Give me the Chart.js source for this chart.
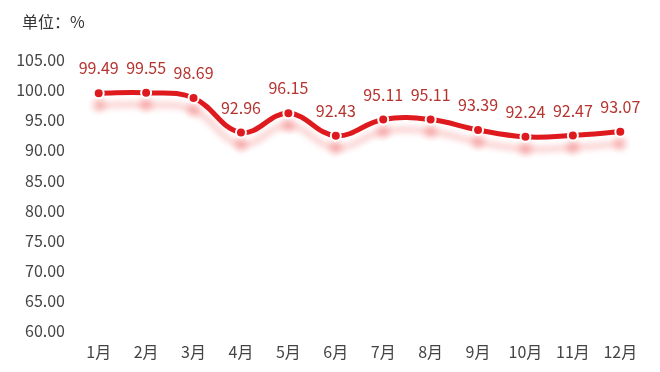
<!DOCTYPE html>
<html>
<head>
<meta charset="utf-8">
<script src="https://cdn.jsdelivr.net/npm/chart.js@4"></script>
<style>
  html, body { margin: 0; padding: 0; background: #fff; }
  canvas { display: block; }
</style>
</head>
<body>
<canvas id="chart" width="660" height="372"></canvas>
<script>
// 数据
const months = ['1月', '2月', '3月', '4月', '5月', '6月', '7月', '8月', '9月', '10月', '11月', '12月'];
const values = [99.49, 99.55, 98.69, 92.96, 96.15, 92.43, 95.11, 95.11, 93.39, 92.24, 92.47, 93.07];
const yMin = 60;
const yMax = 105;
const yStep = 5;
const unitText = '单位：%';

const fontFamily = '"Noto Sans CJK SC", "Noto Sans", sans-serif';

// 线条阴影
const shadowPlugin = {
    id: 'lineShadow',
    beforeDatasetDraw(chart) {
        const ctx = chart.ctx;
        ctx.save();
        ctx.shadowColor = 'rgba(240, 80, 80, 0.32)';
        ctx.shadowBlur = 6;
        ctx.shadowOffsetY = 12;
    },
    afterDatasetDraw(chart) {
        chart.ctx.restore();
    }
};

// 数值标签 + 单位
const labelPlugin = {
    id: 'valueLabels',
    afterDatasetsDraw(chart) {
        const ctx = chart.ctx;
        const meta = chart.getDatasetMeta(0);
        ctx.save();
        ctx.font = '16px ' + fontFamily;
        ctx.fillStyle = '#b5342f';
        ctx.textAlign = 'center';
        ctx.textBaseline = 'bottom';
        meta.data.forEach((pt, i) => {
            ctx.fillText(values[i].toFixed(2), pt.x, pt.y - 17);
        });
        // 单位
        ctx.fillStyle = '#333';
        ctx.textAlign = 'left';
        ctx.textBaseline = 'middle';
        ctx.fillText(unitText, 22, 22);
        ctx.restore();
    }
};

const ctxChart = document.getElementById('chart').getContext('2d');

const chart = new Chart(ctxChart, {
    type: 'line',
    data: {
        labels: months,
        datasets: [{
            data: values,
            borderColor: '#de1a1f',
            borderWidth: 5,
            tension: 0.4,
            pointRadius: 5,
            pointBackgroundColor: '#de1a1f',
            pointBorderColor: '#ffffff',
            pointBorderWidth: 2,
            fill: false
        }]
    },
    options: {
        responsive: false,
        animation: false,
        layout: {
            padding: { left: 17, right: 16, top: 60, bottom: 11 }
        },
        scales: {
            x: {
                offset: true,
                grid: { display: false, drawTicks: false },
                border: { display: false },
                ticks: {
                    color: '#444',
                    padding: 11,
                    font: { size: 16, family: fontFamily }
                },
                afterFit: scale => { scale.height = 30; }
            },
            y: {
                min: yMin,
                max: yMax,
                grid: { display: false, drawTicks: false },
                border: { display: false },
                ticks: {
                    stepSize: yStep,
                    color: '#444',
                    padding: 10,
                    font: { size: 16, family: fontFamily },
                    callback: v => v.toFixed(2)
                },
                afterFit: scale => { scale.width = 58; }
            }
        },
        plugins: {
            legend: { display: false },
            tooltip: { enabled: false },
            title: { display: false }
        }
    },
    plugins: [shadowPlugin, labelPlugin]
});
</script>
</body>
</html>
